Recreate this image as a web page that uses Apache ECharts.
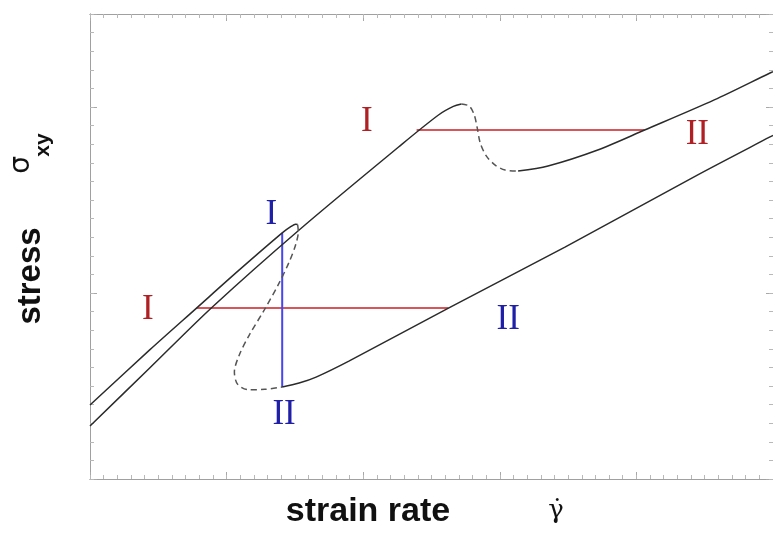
<!DOCTYPE html>
<html>
<head>
<meta charset="utf-8">
<script src="https://cdn.jsdelivr.net/npm/echarts@6/dist/echarts.min.js"></script>
<style>
html,body{margin:0;padding:0;background:#fff;}
#main{width:773px;height:533px;}
</style>
</head>
<body>
<div id="main"></div>
<script>
// ---- data (strain rate x, stress y) ----
const curveALow = [[0,0.285],[0.437,0.597],[0.896,0.925],[1.531,1.339],[2.259,1.785],[2.551,1.957],[2.660,2.003],[2.719,2.016]];
const curveAMid = [[2.719,2.016],[2.777,2.005],[2.813,1.957],[2.835,1.887],[2.857,1.806],[2.901,1.737],[2.966,1.688],[3.039,1.661],[3.134,1.656]];
const curveAHigh = [[3.134,1.656],[3.353,1.683],[3.717,1.769],[4.060,1.876],[4.570,2.038],[4.978,2.183],[5.0,2.19]];
const curveBLow = [[0,0.398],[0.437,0.694],[0.780,0.919],[1.093,1.124],[1.407,1.323],[1.472,1.358],[1.505,1.370],[1.52,1.368]];
const curveBMid = [[1.52,1.368],[1.525,1.33],[1.505,1.258],[1.458,1.167],[1.385,1.054],[1.276,0.909],[1.166,0.774],[1.093,0.667],[1.057,0.575],[1.08,0.51],[1.16,0.48],[1.28,0.482],[1.407,0.495]];
const curveBHigh = [[1.407,0.495],[1.531,0.516],[1.655,0.548],[1.895,0.634],[2.624,0.919],[3.477,1.247],[4.446,1.634],[4.978,1.839],[5.0,1.847]];
const redUpper = [[2.391,1.876],[4.060,1.876]];
const redLower = [[0.780,0.919],[2.624,0.919]];
const blueVertical = [[1.407,1.323],[1.407,0.495]];
const labelTexts = ['I','II','I','II','I','II'];
const labelGroups = ['red','red','blue','blue','red','blue'];
const labelX = [2.026,4.446,1.327,1.421,0.423,3.061];
const labelY = [1.919,1.849,1.419,0.344,0.909,0.855];
const xRange = [0,5];
const yRange = [0,2.5];

const colors = {red:'#b01f24', blue:'#1f1fa8'};
const chart = echarts.init(document.getElementById('main'), null, {renderer:'canvas'});

function axis(base, opts){ return Object.assign({
  type:'value', min: base[0], max: base[1], splitLine:{show:false},
  axisLabel:{show:false}, axisLine:{show:true, onZero:false, lineStyle:{color:'#a0a0a0', width:1}}
}, opts); }

const majorTick = {show:true, inside:true, length:7, lineStyle:{color:'#a8a8a8', width:1}};
const minorTick = {show:true, inside:true, length:4, lineStyle:{color:'#b8b8b8', width:1}};

const blackLine = {color:'#2b2b2b', width:1.5};
const dashLine = {color:'#555', width:1.5, type:[6,4]};

function line(data, style, z){
  return {type:'line', data:data, showSymbol:false, symbol:'none', smooth:0.3, lineStyle:style, z:z||2, silent:true, animation:false};
}

const option = {
  backgroundColor:'#fff',
  animation:false,
  grid:{left:90, top:14, width:686, height:465},
  xAxis:[
    axis(xRange,{position:'bottom', interval:1, axisTick:majorTick}),
    axis(xRange,{position:'top', interval:1, axisTick:majorTick}),
    axis(xRange,{position:'bottom', interval:0.1, axisTick:minorTick}),
    axis(xRange,{position:'top', interval:0.1, axisTick:minorTick})
  ],
  yAxis:[
    axis(yRange,{position:'left', interval:1, axisTick:majorTick}),
    axis(yRange,{position:'right', interval:1, axisTick:majorTick}),
    axis(yRange,{position:'left', interval:0.1, axisTick:minorTick}),
    axis(yRange,{position:'right', interval:0.1, axisTick:minorTick})
  ],
  series:[
    line(curveALow, blackLine),
    line(curveAMid, dashLine),
    line(curveAHigh, blackLine),
    line(curveBLow, blackLine),
    line(curveBMid, dashLine),
    line(curveBHigh, blackLine),
    Object.assign(line(redUpper, {color:'#d9555a', width:2}, 1), {smooth:false}),
    Object.assign(line(redLower, {color:'#d9555a', width:2}, 1), {smooth:false}),
    Object.assign(line(blueVertical, {color:'#4646ee', width:2}, 1), {smooth:false}),
    {
      type:'scatter', symbolSize:0, silent:true, animation:false, z:5,
      itemStyle:{opacity:1},
      data: labelTexts.map((t,i)=>({name:t, value:[labelX[i], labelY[i]],
        label:{show:true, position:'inside', formatter:t, color:colors[labelGroups[i]],
          textBorderWidth:0, textBorderColor:'transparent', opacity:1,
          fontFamily:'Liberation Serif', fontSize:35}}))
    }
  ],
  graphic:[
    {type:'text', x:31, y:276, rotation:Math.PI/2, style:{text:'stress', fontFamily:'Liberation Sans', fontWeight:'bold', fontSize:33, fill:'#111', align:'center', verticalAlign:'middle'}},
    {type:'text', x:22, y:165, rotation:Math.PI/2, style:{text:'σ', fontFamily:'DejaVu Sans', fontSize:28, fill:'#111', align:'center', verticalAlign:'middle'}},
    {type:'text', x:43, y:145, rotation:Math.PI/2, style:{text:'xy', fontFamily:'Liberation Sans', fontWeight:'bold', fontSize:21, fill:'#111', align:'center', verticalAlign:'middle'}},
    {type:'text', x:368, y:512, style:{text:'strain rate', fontFamily:'Liberation Sans', fontWeight:'bold', fontSize:34, fill:'#111', align:'center', verticalAlign:'middle'}},
    {type:'text', x:556, y:511, style:{text:'γ̇', fontFamily:'DejaVu Serif', fontSize:26, fill:'#111', align:'center', verticalAlign:'middle'}}
  ]
};
chart.setOption(option);
</script>
</body>
</html>
